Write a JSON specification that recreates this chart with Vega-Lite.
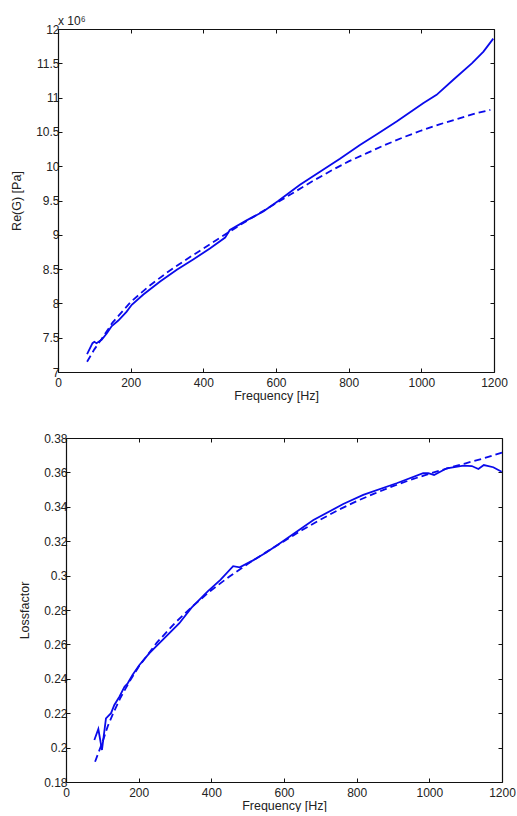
{
  "$schema": "https://vega.github.io/schema/vega-lite/v6.json",
  "background": "white",
  "padding": {"left": 9, "top": 15, "right": 0, "bottom": 0},
  "spacing": 30,
  "config": {
    "view": {"stroke": null},
    "axis": {
      "grid": false,
      "labelFont": "Liberation Sans",
      "titleFont": "Liberation Sans",
      "labelFontSize": 12,
      "titleFontSize": 12.5,
      "titleFontWeight": "normal",
      "labelColor": "#222222",
      "titleColor": "#222222",
      "domainColor": "#111111",
      "domainWidth": 1.2,
      "tickColor": "#111111",
      "tickSize": -4,
      "labelFlush": false,
      "labelOverlap": false
    },
    "line": {"color": "#0a0aeb", "strokeWidth": 1.8}
  },
  "datasets": {
    "empty": [],
    "reSolid": [
      {"f": 80, "g": 7.26}, {"f": 95, "g": 7.42}, {"f": 100, "g": 7.44}, {"f": 106, "g": 7.42},
      {"f": 120, "g": 7.47}, {"f": 134, "g": 7.56}, {"f": 148, "g": 7.67}, {"f": 166, "g": 7.75},
      {"f": 189, "g": 7.88}, {"f": 203, "g": 7.98}, {"f": 235, "g": 8.13}, {"f": 281, "g": 8.32},
      {"f": 327, "g": 8.49}, {"f": 372, "g": 8.64}, {"f": 418, "g": 8.80}, {"f": 460, "g": 8.96},
      {"f": 473, "g": 9.07}, {"f": 519, "g": 9.21}, {"f": 565, "g": 9.34}, {"f": 605, "g": 9.49},
      {"f": 666, "g": 9.73}, {"f": 721, "g": 9.92}, {"f": 776, "g": 10.11}, {"f": 831, "g": 10.31},
      {"f": 882, "g": 10.48}, {"f": 932, "g": 10.65}, {"f": 978, "g": 10.82}, {"f": 1006, "g": 10.92},
      {"f": 1042, "g": 11.04}, {"f": 1088, "g": 11.26}, {"f": 1139, "g": 11.50}, {"f": 1171, "g": 11.67},
      {"f": 1198, "g": 11.86}
    ],
    "reDash": [
      {"f": 80, "g": 7.15}, {"f": 100, "g": 7.33}, {"f": 120, "g": 7.48}, {"f": 150, "g": 7.72},
      {"f": 200, "g": 8.02}, {"f": 250, "g": 8.25}, {"f": 300, "g": 8.45}, {"f": 350, "g": 8.63},
      {"f": 400, "g": 8.80}, {"f": 450, "g": 8.97}, {"f": 500, "g": 9.14}, {"f": 550, "g": 9.30},
      {"f": 600, "g": 9.46}, {"f": 650, "g": 9.62}, {"f": 700, "g": 9.78}, {"f": 750, "g": 9.93},
      {"f": 800, "g": 10.07}, {"f": 850, "g": 10.19}, {"f": 900, "g": 10.31}, {"f": 950, "g": 10.42},
      {"f": 1000, "g": 10.52}, {"f": 1050, "g": 10.61}, {"f": 1100, "g": 10.69}, {"f": 1150, "g": 10.77},
      {"f": 1190, "g": 10.82}
    ],
    "lfSolid": [
      {"f": 78, "eta": 0.2044}, {"f": 89, "eta": 0.2108}, {"f": 99, "eta": 0.1986}, {"f": 110, "eta": 0.2170},
      {"f": 124, "eta": 0.2200}, {"f": 133, "eta": 0.2248}, {"f": 147, "eta": 0.2296}, {"f": 161, "eta": 0.2354},
      {"f": 170, "eta": 0.2374}, {"f": 183, "eta": 0.2422}, {"f": 202, "eta": 0.2480}, {"f": 229, "eta": 0.2548},
      {"f": 266, "eta": 0.2626}, {"f": 312, "eta": 0.2723}, {"f": 345, "eta": 0.2812}, {"f": 390, "eta": 0.2908},
      {"f": 425, "eta": 0.2975}, {"f": 460, "eta": 0.3055}, {"f": 478, "eta": 0.3048}, {"f": 516, "eta": 0.3090},
      {"f": 550, "eta": 0.3133}, {"f": 590, "eta": 0.3190}, {"f": 681, "eta": 0.3323}, {"f": 763, "eta": 0.3416},
      {"f": 818, "eta": 0.3469}, {"f": 910, "eta": 0.3537}, {"f": 983, "eta": 0.3595}, {"f": 997, "eta": 0.3595},
      {"f": 1013, "eta": 0.3585}, {"f": 1048, "eta": 0.3624}, {"f": 1094, "eta": 0.3639}, {"f": 1117, "eta": 0.3637},
      {"f": 1135, "eta": 0.3620}, {"f": 1150, "eta": 0.3643}, {"f": 1176, "eta": 0.3630}, {"f": 1199, "eta": 0.3604}
    ],
    "lfDash": [
      {"f": 80, "eta": 0.1918}, {"f": 100, "eta": 0.2030}, {"f": 115, "eta": 0.2125}, {"f": 130, "eta": 0.2200},
      {"f": 150, "eta": 0.2290}, {"f": 175, "eta": 0.2385}, {"f": 200, "eta": 0.2470}, {"f": 250, "eta": 0.2610},
      {"f": 300, "eta": 0.2725}, {"f": 350, "eta": 0.2825}, {"f": 400, "eta": 0.2915}, {"f": 450, "eta": 0.2995},
      {"f": 500, "eta": 0.3068}, {"f": 550, "eta": 0.3135}, {"f": 600, "eta": 0.3200}, {"f": 650, "eta": 0.3265},
      {"f": 700, "eta": 0.3325}, {"f": 750, "eta": 0.3382}, {"f": 800, "eta": 0.3433}, {"f": 850, "eta": 0.3478},
      {"f": 900, "eta": 0.3520}, {"f": 950, "eta": 0.3558}, {"f": 1000, "eta": 0.3592}, {"f": 1050, "eta": 0.3624},
      {"f": 1100, "eta": 0.3653}, {"f": 1150, "eta": 0.3682}, {"f": 1200, "eta": 0.3715}
    ]
  },
  "vconcat": [
    {
      "spacing": 0,
      "hconcat": [
        {"width": 1, "height": 1, "data": {"name": "empty"}, "mark": "point"},
        {
          "width": 436,
          "height": 343,
          "title": {"text": "x 10⁶", "anchor": "start", "frame": "group", "font": "Liberation Sans", "fontSize": 12, "fontWeight": "normal", "color": "#222222", "offset": -5},
          "layer": [
            {
              "data": {"name": "reSolid"},
              "mark": {"type": "line"},
              "encoding": {
                "x": {"field": "f", "type": "quantitative", "scale": {"domain": [0, 1200]},
                      "axis": {"orient": "bottom", "values": [0, 200, 400, 600, 800, 1000, 1200], "format": "d", "title": "Frequency [Hz]", "labelPadding": 9, "titlePadding": 1}},
                "y": {"field": "g", "type": "quantitative", "scale": {"domain": [7, 12], "zero": false},
                      "axis": {"orient": "left", "values": [7, 7.5, 8, 8.5, 9, 9.5, 10, 10.5, 11, 11.5, 12], "format": "~g", "title": "Re(G) [Pa]", "labelPadding": 3, "titlePadding": 12}}
              }
            },
            {
              "data": {"name": "reDash"},
              "mark": {"type": "line", "strokeDash": [7, 4]},
              "encoding": {
                "x": {"field": "f", "type": "quantitative", "scale": {"domain": [0, 1200]},
                      "axis": {"orient": "top", "values": [0, 200, 400, 600, 800, 1000, 1200], "labels": false, "title": null}},
                "y": {"field": "g", "type": "quantitative", "scale": {"domain": [7, 12], "zero": false},
                      "axis": {"orient": "right", "values": [7, 7.5, 8, 8.5, 9, 9.5, 10, 10.5, 11, 11.5, 12], "labels": false, "title": null}}
              }
            }
          ],
          "resolve": {"axis": {"x": "independent", "y": "independent"}}
        }
      ]
    },
    {
      "spacing": 8,
      "hconcat": [
        {"width": 1, "height": 1, "data": {"name": "empty"}, "mark": "point"},
        {
          "width": 436,
          "height": 344,
          "layer": [
            {
              "data": {"name": "lfSolid"},
              "mark": {"type": "line"},
              "encoding": {
                "x": {"field": "f", "type": "quantitative", "scale": {"domain": [0, 1200]},
                      "axis": {"orient": "bottom", "values": [0, 200, 400, 600, 800, 1000, 1200], "format": "d", "title": "Frequency [Hz]", "labelPadding": 9, "titlePadding": 1}},
                "y": {"field": "eta", "type": "quantitative", "scale": {"domain": [0.18, 0.38], "zero": false},
                      "axis": {"orient": "left", "values": [0.18, 0.2, 0.22, 0.24, 0.26, 0.28, 0.3, 0.32, 0.34, 0.36, 0.38], "format": "~g", "title": "Lossfactor", "labelPadding": 3, "titlePadding": 12}}
              }
            },
            {
              "data": {"name": "lfDash"},
              "mark": {"type": "line", "strokeDash": [7, 4]},
              "encoding": {
                "x": {"field": "f", "type": "quantitative", "scale": {"domain": [0, 1200]},
                      "axis": {"orient": "top", "values": [0, 200, 400, 600, 800, 1000, 1200], "labels": false, "title": null}},
                "y": {"field": "eta", "type": "quantitative", "scale": {"domain": [0.18, 0.38], "zero": false},
                      "axis": {"orient": "right", "values": [0.18, 0.2, 0.22, 0.24, 0.26, 0.28, 0.3, 0.32, 0.34, 0.36, 0.38], "labels": false, "title": null}}
              }
            }
          ],
          "resolve": {"axis": {"x": "independent", "y": "independent"}}
        }
      ]
    }
  ]
}
